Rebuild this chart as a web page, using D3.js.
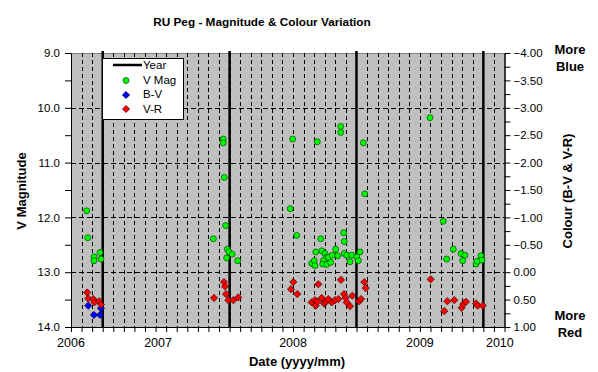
<!DOCTYPE html>
<html>
<head>
<meta charset="utf-8">
<script src="https://cdn.jsdelivr.net/npm/d3@7"></script>
<style>
  body { margin: 0; background: #fff; }
  text { font-family: "Liberation Sans", Arial, sans-serif; fill: #000; }
</style>
</head>
<body>
<script>
var w = 598, h = 372;

// V magnitude (green)
var vDate = [2005.874, 2005.882, 2005.931, 2005.931, 2005.979, 2005.986,
    2006.872, 2006.950, 2006.950, 2006.958, 2006.969, 2006.982, 2006.977, 2006.995, 2007.021, 2007.064,
    2007.478, 2007.497, 2007.529, 2007.691, 2007.876, 2007.876, 2008.054, 2008.065, 2007.718, 2007.899,
    2007.904, 2007.679, 2007.647, 2007.668, 2007.673, 2007.726, 2007.752, 2007.760, 2007.778, 2007.739,
    2007.734, 2007.765, 2007.797, 2007.809, 2007.836, 2007.852, 2007.904, 2007.923, 2007.962, 2007.949,
    2008.002, 2008.014, 2008.028,
    2008.579, 2008.684, 2008.711, 2008.763, 2008.824, 2008.855, 2008.837, 2008.942, 2008.952, 2008.981, 2008.989];
var vMag = [11.88, 12.37, 12.72, 12.79, 12.64, 12.76,
    12.39, 10.57, 10.64, 11.27, 12.15, 12.58, 12.74, 12.63, 12.67, 12.79,
    11.84, 10.57, 12.33, 10.62, 10.34, 10.45, 10.64, 11.57, 12.39, 12.28,
    12.44, 12.63, 12.84, 12.79, 12.88, 12.61, 12.66, 12.73, 12.73, 12.79,
    12.85, 12.86, 12.82, 12.69, 12.58, 12.70, 12.66, 12.69, 12.69, 12.81,
    12.72, 12.79, 12.63,
    10.18, 12.07, 12.76, 12.58, 12.66, 12.69, 12.79, 12.85, 12.80, 12.70, 12.78];

// B-V colour (blue)
var bvDate = [2005.886, 2005.931, 2005.979, 2005.986];
var bvVal = [0.61, 0.78, 0.78, 0.66];

// V-R colour (red)
var vrDate = [2005.878, 2005.886, 2005.926, 2005.934, 2005.973, 2005.986,
    2006.877, 2006.956, 2006.964, 2006.972, 2006.990, 2007.029, 2007.069,
    2007.502, 2007.484, 2007.533, 2007.699, 2007.878, 2008.062, 2008.073,
    2007.647, 2007.673, 2007.679, 2007.691, 2007.726, 2007.744, 2007.760, 2007.778, 2007.805,
    2007.831, 2007.857, 2007.902, 2007.915, 2007.923, 2007.949, 2007.967, 2008.020, 2008.036,
    2008.585, 2008.692, 2008.716, 2008.771, 2008.829, 2008.842, 2008.863, 2008.942, 2008.955, 2008.995];
var vrVal = [0.37, 0.48, 0.49, 0.55, 0.53, 0.59,
    0.47, 0.18, 0.26, 0.40, 0.51, 0.51, 0.46,
    0.18, 0.31, 0.40, 0.22, 0.14, 0.18, 0.29,
    0.55, 0.51, 0.61, 0.54, 0.47, 0.57, 0.54, 0.49, 0.55,
    0.51, 0.49, 0.40, 0.47, 0.55, 0.62, 0.43, 0.53, 0.49,
    0.13, 0.71, 0.53, 0.51, 0.65, 0.58, 0.54, 0.57, 0.61, 0.61];

var yearLines = [2006, 2007, 2008, 2009];
var xLabels = ["2006", "2007", "2008", "2009", "2010"];
var xLabelPos = [2005.75, 2006.436, 2007.5, 2008.5, 2009.13];
var legendNames = ["Year", "V Mag", "B-V", "V-R"];

var pLeft = 71, pRight = 504.5, pTop = 53, pBottom = 327;

var svg = d3.select("body")
    .append("svg")
    .attr("width", w)
    .attr("height", h);

var xScale = d3.scaleLinear()
    .domain([2005.75, 2009 + 2 / 12])
    .range([pLeft, pRight]);

var yScale = d3.scaleLinear()
    .domain([9, 14])
    .range([pTop, pBottom]);

var cScale = d3.scaleLinear()
    .domain([-4, 1])
    .range([pTop, pBottom]);

// dotted plot background
var pat = svg.append("defs").append("pattern")
    .attr("id", "dots")
    .attr("patternUnits", "userSpaceOnUse")
    .attr("width", 9).attr("height", 9);
pat.append("rect").attr("width", 9).attr("height", 9).attr("fill", "#c0c0c0");
pat.append("rect").attr("x", 1).attr("y", 6).attr("width", 1).attr("height", 1).attr("fill", "#86c086");
pat.append("rect").attr("x", 5).attr("y", 2).attr("width", 1).attr("height", 1).attr("fill", "#86c086");

svg.append("rect")
    .attr("x", pLeft).attr("y", pTop)
    .attr("width", pRight - pLeft).attr("height", pBottom - pTop)
    .attr("fill", "url(#dots)");

svg.append("line")
    .attr("x1", pLeft).attr("x2", pRight)
    .attr("y1", pTop + 0.5).attr("y2", pTop + 0.5)
    .attr("stroke", "#808080");

// monthly grid
var months = d3.range(0, 42).map(i => 2005.75 + i / 12);
svg.append("g").selectAll("line")
    .data(months.slice(1, -1))
    .join("line")
    .attr("x1", d => Math.round(xScale(d)) + 0.5)
    .attr("x2", d => Math.round(xScale(d)) + 0.5)
    .attr("y1", pTop).attr("y2", pBottom)
    .attr("stroke", "#000")
    .attr("stroke-dasharray", "4,3");

svg.append("g").selectAll("line")
    .data([10, 11, 12, 13])
    .join("line")
    .attr("x1", pLeft).attr("x2", pRight)
    .attr("y1", d => Math.round(yScale(d)) + 0.5)
    .attr("y2", d => Math.round(yScale(d)) + 0.5)
    .attr("stroke", "#000")
    .attr("stroke-dasharray", "5,3");

// year lines
svg.append("g").selectAll("line")
    .data(yearLines)
    .join("line")
    .attr("x1", d => xScale(d)).attr("x2", d => xScale(d))
    .attr("y1", pTop - 2).attr("y2", pBottom)
    .attr("stroke", "#000")
    .attr("stroke-width", 2.5);

// axes
var yAxis = d3.axisLeft(yScale)
    .tickValues(d3.range(9, 14.01, 1))
    .tickFormat(d3.format(".1f"))
    .tickSize(6).tickSizeOuter(0).tickPadding(5);
var yMinor = d3.axisLeft(yScale)
    .tickValues(d3.range(9.5, 14, 1))
    .tickFormat("").tickSize(6).tickSizeOuter(0);

var cAxis = d3.axisRight(cScale)
    .tickValues(d3.range(-4, 1.01, 0.5))
    .tickFormat(d3.format(".2f"))
    .tickSize(6).tickSizeOuter(0).tickPadding(3);
var cMinor = d3.axisRight(cScale)
    .tickValues(d3.range(-3.75, 1, 0.5))
    .tickFormat("").tickSize(6).tickSizeOuter(0);

var xAxis = d3.axisBottom(xScale)
    .tickValues(months)
    .tickFormat("")
    .tickSize(5).tickSizeOuter(0);

function styleAxis(g) {
    g.select(".domain").attr("stroke", "#000");
    g.selectAll(".tick line").attr("stroke", "#000");
    g.selectAll("text").style("font-size", "11.5px").attr("fill", "#000");
}

svg.append("g").attr("transform", "translate(" + pLeft + ",0)").call(yAxis).call(styleAxis);
svg.append("g").attr("transform", "translate(" + pLeft + ",0)").call(yMinor).call(styleAxis);
svg.append("g").attr("transform", "translate(" + pRight + ",0)").call(cAxis).call(styleAxis);
svg.append("g").attr("transform", "translate(" + pRight + ",0)").call(cMinor).call(styleAxis);
svg.append("g").attr("transform", "translate(0," + pBottom + ")").call(xAxis).call(styleAxis);

// year labels
svg.append("g").selectAll("text")
    .data(xLabels)
    .join("text")
    .attr("x", (d, i) => xScale(xLabelPos[i]))
    .attr("y", 347)
    .attr("text-anchor", "middle")
    .style("font-size", "12.5px")
    .text(d => d);

// markers
var diamond = d3.symbol(d3.symbolSquare, 26);

svg.append("g").selectAll("circle")
    .data(vDate)
    .join("circle")
    .attr("cx", d => xScale(d))
    .attr("cy", (d, i) => yScale(vMag[i]))
    .attr("r", 3)
    .attr("fill", "#00ff00")
    .attr("stroke", "#004000")
    .attr("stroke-width", 0.7);

svg.append("g").selectAll("path")
    .data(bvDate)
    .join("path")
    .attr("d", diamond)
    .attr("transform", (d, i) => "translate(" + xScale(d) + "," + cScale(bvVal[i]) + ") rotate(45)")
    .attr("fill", "#0000ff")
    .attr("stroke", "#000040")
    .attr("stroke-width", 0.7);

svg.append("g").selectAll("path")
    .data(vrDate)
    .join("path")
    .attr("d", diamond)
    .attr("transform", (d, i) => "translate(" + xScale(d) + "," + cScale(vrVal[i]) + ") rotate(45)")
    .attr("fill", "#ff0000")
    .attr("stroke", "#400000")
    .attr("stroke-width", 0.7);

// legend
var lg = svg.append("g").attr("transform", "translate(102,58)");
lg.append("rect")
    .attr("x", 0.5).attr("y", 0.5)
    .attr("width", 81).attr("height", 61)
    .attr("fill", "#fff").attr("stroke", "#000");
lg.append("line")
    .attr("x1", 11).attr("x2", 40)
    .attr("y1", 7).attr("y2", 7)
    .attr("stroke", "#000").attr("stroke-width", 2.5);
lg.append("circle")
    .attr("cx", 24).attr("cy", 22.5).attr("r", 3)
    .attr("fill", "#00ff00").attr("stroke", "#004000").attr("stroke-width", 0.7);
lg.append("path")
    .attr("d", diamond)
    .attr("transform", "translate(24,37) rotate(45)")
    .attr("fill", "#0000ff").attr("stroke", "#000040").attr("stroke-width", 0.7);
lg.append("path")
    .attr("d", diamond)
    .attr("transform", "translate(24,51) rotate(45)")
    .attr("fill", "#ff0000").attr("stroke", "#400000").attr("stroke-width", 0.7);
lg.selectAll("text.lab")
    .data(legendNames)
    .join("text")
    .attr("class", "lab")
    .attr("x", 41)
    .attr("y", (d, i) => 11 + i * 14.5)
    .style("font-size", "11.5px")
    .text(d => d);

// titles
svg.append("text")
    .attr("x", 262).attr("y", 26)
    .attr("text-anchor", "middle")
    .style("font-size", "11.8px").style("font-weight", "bold")
    .text("RU Peg - Magnitude & Colour Variation");

svg.append("text")
    .attr("x", 297).attr("y", 366)
    .attr("text-anchor", "middle")
    .style("font-size", "13px").style("font-weight", "bold")
    .text("Date (yyyy/mm)");

svg.append("text")
    .attr("transform", "translate(26,191) rotate(-90)")
    .attr("text-anchor", "middle")
    .style("font-size", "13px").style("font-weight", "bold")
    .text("V Magnitude");

svg.append("text")
    .attr("transform", "translate(572,191) rotate(-90)")
    .attr("text-anchor", "middle")
    .style("font-size", "13px").style("font-weight", "bold")
    .text("Colour (B-V & V-R)");

var side = [["More", 54], ["Blue", 71], ["More", 320], ["Red", 337]];
svg.append("g").selectAll("text")
    .data(side)
    .join("text")
    .attr("x", 570)
    .attr("y", d => d[1])
    .attr("text-anchor", "middle")
    .style("font-size", "13px").style("font-weight", "bold")
    .text(d => d[0]);
</script>
</body>
</html>
